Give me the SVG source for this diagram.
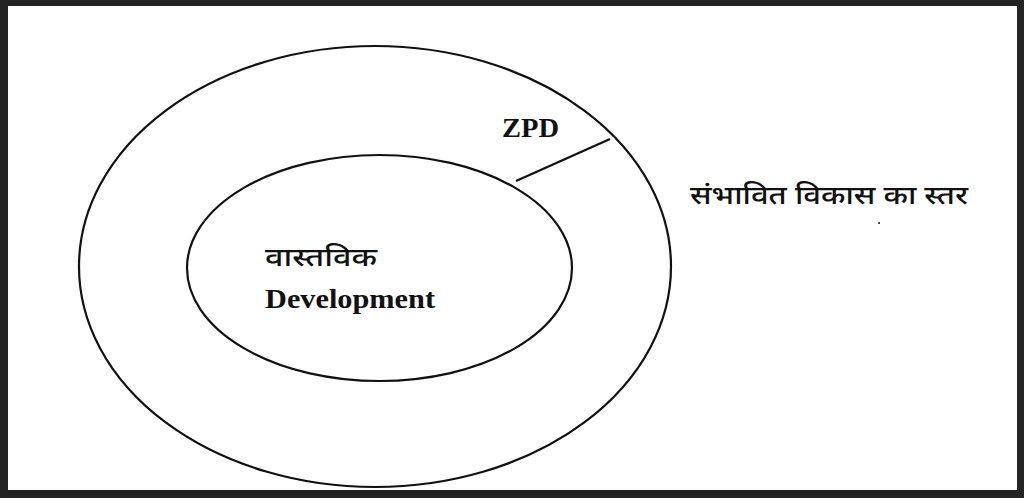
<svg xmlns="http://www.w3.org/2000/svg" width="1024" height="498" viewBox="0 0 1024 498">
<style>
.ring{fill:none;stroke:#111;stroke-width:2.2}
.en{font-family:"Liberation Serif","Times New Roman",serif;font-weight:bold;fill:#111}
.hi{font-family:"Noto Sans Devanagari","Lohit Devanagari","Noto Sans","FreeSans",sans-serif;fill:#111;font-weight:500}
</style>
<rect x="0" y="0" width="1024" height="498" fill="#242424"/>
<rect x="8" y="6" width="1009" height="484" fill="#ffffff"/>
<g id="outer">
<ellipse class="ring" cx="375" cy="266.5" rx="296" ry="220.5"/>
<text class="en" x="502" y="137" font-size="27" textLength="57" lengthAdjust="spacingAndGlyphs">ZPD</text>
</g>
<g id="inner">
<ellipse class="ring" cx="379.5" cy="268" rx="192.5" ry="113"/>
<text class="hi" x="265" y="266" font-size="26" textLength="112" lengthAdjust="spacingAndGlyphs">वास्तविक</text>
<text class="en" x="265" y="308" font-size="27" textLength="170" lengthAdjust="spacingAndGlyphs">Development</text>
</g>
<g id="label">
<text class="hi" x="690" y="204" font-size="26" textLength="278" lengthAdjust="spacingAndGlyphs">संभावित विकास का स्तर</text>
<circle cx="879" cy="223" r="1" fill="#111"/>
</g>
<g id="connectors">
<line x1="516" y1="181" x2="610" y2="139" stroke="#111" stroke-width="2.2"/>
</g>
</svg>
